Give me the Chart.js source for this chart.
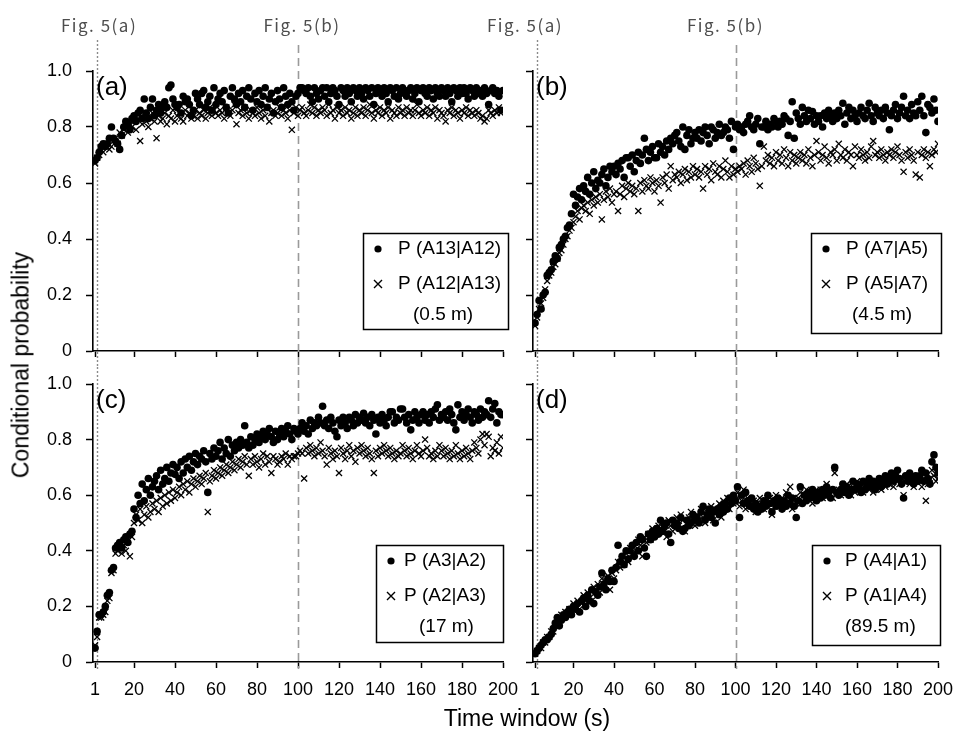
<!DOCTYPE html>
<html><head><meta charset="utf-8">
<script src="https://cdn.jsdelivr.net/npm/chart.js@4/dist/chart.umd.min.js"></script>
<style>
html,body{margin:0;padding:0;background:#fff;}
#fig{position:relative;width:956px;height:735px;overflow:hidden;background:#fff;font-family:"Liberation Sans",Arial,sans-serif;color:#000;}
#fig canvas{position:absolute;}
#ytitle{position:absolute;left:21px;top:365px;transform:translate(-50%,-50%) rotate(-90deg);font-size:23px;white-space:nowrap;line-height:1;}
#xtitle{position:absolute;left:527px;top:718px;transform:translate(-50%,-50%);font-size:23px;white-space:nowrap;line-height:1;}
</style></head>
<body>
<div id="fig">
<canvas id="cA" width="520" height="367" style="left:0;top:0"></canvas>
<canvas id="cB" width="486" height="367" style="left:470px;top:0"></canvas>
<canvas id="cC" width="520" height="368" style="left:0;top:367px"></canvas>
<canvas id="cD" width="436" height="368" style="left:520px;top:367px"></canvas>
<div id="ytitle">Conditional probability</div>
<div id="xtitle">Time window (s)</div>
</div>
<script>
// ---------- data ----------
const timeWindow = Array.from({length:200},(_,i)=>i+1);
const xTickValues = [1,20,40,60,80,100,120,140,160,180,200];
const yTickValues = [0,0.2,0.4,0.6,0.8,1.0];
const figMarks = [1,100];
const figLabels = ['Fig. 5(a)','Fig. 5(b)'];

// (a) 0.5 m
const pA13A12 = [.68,.69,.71,.73,.74,.73,.74,.76,.80,.76,
.75,.74,.72,.77,.80,.82,.81,.79,.83,.84,
.82,.85,.86,.83,.90,.85,.83,.87,.90,.84,
.86,.88,.85,.87,.89,.87,.94,.95,.90,.88,
.87,.88,.85,.91,.89,.90,.88,.84,.86,.92,
.90,.88,.92,.93,.87,.89,.91,.86,.94,.88,
.90,.92,.89,.93,.87,.85,.91,.94,.90,.88,
.92,.89,.93,.87,.91,.94,.90,.86,.92,.89,
.93,.88,.91,.94,.87,.90,.92,.85,.89,.93,
.90,.87,.94,.91,.88,.92,.89,.86,.91,.92,
.94,.94,.93,.92,.94,.91,.89,.94,.92,.90,
.93,.94,.91,.94,.89,.92,.94,.93,.91,.88,
.94,.93,.91,.94,.92,.89,.94,.93,.91,.94,
.92,.90,.94,.93,.91,.94,.88,.92,.94,.93,
.91,.94,.92,.89,.94,.93,.91,.94,.90,.92,
.94,.93,.91,.93,.94,.90,.92,.94,.89,.93,
.94,.92,.91,.94,.93,.90,.94,.92,.91,.94,
.93,.91,.94,.92,.89,.94,.93,.91,.94,.92,
.94,.92,.90,.94,.93,.91,.94,.92,.93,.91,
.94,.92,.88,.93,.94,.92,.93,.91,.86,.93];
const pA12A13 = [.67,.69,.70,.72,.71,.73,.74,.72,.73,.75,
.76,.74,.78,.77,.79,.80,.78,.81,.80,.82,
.79,.83,.75,.81,.84,.82,.80,.83,.85,.82,
.76,.84,.82,.83,.85,.81,.84,.83,.86,.82,
.84,.85,.83,.82,.86,.84,.85,.83,.84,.86,
.83,.85,.84,.86,.83,.85,.87,.84,.86,.85,
.84,.86,.85,.83,.87,.85,.84,.86,.88,.81,
.85,.86,.84,.87,.85,.83,.86,.85,.84,.87,
.85,.83,.86,.84,.87,.82,.85,.86,.84,.85,
.87,.84,.86,.85,.83,.86,.79,.85,.87,.84,
.86,.87,.85,.84,.86,.88,.85,.87,.84,.86,
.85,.87,.86,.84,.88,.85,.86,.83,.87,.85,
.86,.84,.87,.85,.86,.83,.85,.87,.84,.86,
.85,.87,.84,.86,.88,.85,.83,.86,.85,.87,
.84,.86,.85,.87,.83,.86,.85,.84,.87,.85,
.86,.84,.87,.85,.86,.84,.86,.88,.85,.84,
.86,.85,.87,.84,.86,.85,.87,.83,.86,.85,
.84,.82,.86,.85,.87,.84,.86,.85,.83,.86,
.85,.87,.84,.86,.85,.84,.86,.85,.83,.84,
.82,.83,.86,.85,.84,.86,.85,.87,.85,.86];

// (b) 4.5 m
const pA7A5 = [.10,.13,.18,.15,.20,.21,.27,.28,.29,.32,
.34,.33,.37,.38,.40,.41,.44,.45,.49,.56,
.52,.55,.58,.54,.59,.57,.62,.56,.60,.64,
.58,.61,.60,.63,.65,.59,.62,.66,.64,.66,
.63,.67,.65,.68,.62,.69,.69,.66,.70,.64,
.68,.71,.67,.70,.76,.72,.68,.71,.73,.69,
.69,.74,.71,.73,.70,.75,.72,.76,.74,.77,
.78,.75,.73,.80,.72,.77,.79,.74,.76,.78,
.76,.79,.75,.78,.80,.77,.74,.80,.79,.76,
.78,.81,.77,.78,.80,.79,.76,.82,.72,.80,
.81,.79,.80,.78,.81,.82,.84,.80,.79,.81,
.83,.74,.80,.80,.82,.79,.81,.80,.83,.82,
.80,.82,.81,.84,.83,.77,.82,.89,.76,.85,
.83,.81,.87,.84,.82,.86,.83,.855,.81,.84,
.82,.84,.80,.85,.83,.86,.84,.82,.85,.83,
.86,.84,.885,.81,.85,.87,.83,.86,.84,.82,
.85,.87,.84,.83,.86,.885,.84,.82,.87,.85,
.84,.86,.83,.87,.85,.79,.84,.86,.88,.83,
.85,.87,.91,.84,.86,.83,.88,.85,.84,.89,
.86,.91,.84,.78,.88,.87,.85,.90,.86,.82];
const pA5A7 = [.09,.12,.15,.17,.19,.22,.25,.27,.28,.30,
.31,.33,.35,.36,.38,.40,.41,.43,.44,.46,
.48,.50,.47,.51,.52,.50,.53,.49,.54,.52,
.55,.53,.56,.47,.54,.57,.55,.58,.53,.56,
.57,.50,.56,.59,.55,.58,.60,.57,.59,.56,
.58,.50,.60,.57,.61,.59,.58,.62,.60,.57,
.61,.59,.53,.62,.60,.63,.58,.66,.61,.63,
.62,.64,.60,.63,.65,.61,.64,.62,.66,.63,
.65,.62,.64,.58,.66,.63,.65,.61,.67,.64,
.63,.66,.62,.65,.68,.64,.62,.66,.63,.65,
.64,.66,.65,.67,.63,.68,.66,.64,.69,.67,
.65,.59,.66,.73,.68,.70,.67,.69,.66,.71,
.68,.70,.67,.72,.69,.66,.71,.68,.70,.67,
.69,.71,.68,.70,.67,.72,.69,.66,.70,.75,
.71,.68,.70,.73,.69,.67,.71,.70,.72,.68,
.74,.70,.69,.72,.68,.71,.70,.66,.73,.70,
.69,.72,.70,.68,.71,.69,.73,.75,.70,.71,
.69,.72,.70,.68,.71,.70,.72,.69,.71,.73,
.70,.68,.64,.71,.69,.72,.70,.68,.63,.71,
.62,.70,.72,.69,.71,.66,.70,.72,.71,.74];

// (c) 17 m
const pA3A2 = [.05,.11,.17,.17,.18,.20,.24,.25,.33,.34,
.41,.42,.43,.41,.44,.45,.43,.46,.47,.55,
.52,.60,.57,.64,.58,.62,.66,.60,.63,.65,
.67,.62,.69,.64,.66,.70,.65,.68,.71,.675,
.70,.66,.72,.68,.73,.70,.74,.69,.72,.75,
.71,.74,.73,.76,.72,.61,.75,.73,.77,.74,
.76,.79,.73,.77,.75,.80,.74,.78,.76,.79,
.77,.80,.78,.85,.79,.77,.81,.78,.80,.82,
.79,.81,.83,.80,.82,.84,.81,.79,.83,.80,
.82,.84,.81,.83,.85,.82,.80,.84,.83,.82,
.84,.86,.83,.85,.82,.87,.84,.86,.85,.88,
.86,.92,.85,.87,.84,.88,.86,.83,.81,.87,
.85,.88,.86,.84,.88,.87,.85,.89,.86,.88,
.87,.895,.86,.88,.85,.89,.87,.82,.88,.86,
.89,.87,.85,.88,.90,.90,.86,.88,.87,.91,
.91,.88,.86,.89,.835,.87,.90,.88,.86,.89,
.90,.87,.89,.86,.90,.88,.91,.925,.87,.89,
.88,.90,.87,.91,.89,.86,.835,.925,.88,.90,
.87,.89,.91,.88,.86,.90,.89,.87,.91,.88,
.90,.89,.94,.88,.91,.93,.86,.90,.89,.89];
const pA2A3 = [.06,.09,.16,.16,.17,.18,.22,.23,.32,.33,
.39,.40,.41,.39,.42,.40,.44,.38,.45,.50,
.53,.51,.55,.50,.53,.56,.52,.54,.57,.55,
.58,.54,.59,.56,.60,.57,.61,.58,.62,.59,
.61,.63,.60,.64,.62,.65,.61,.64,.66,.63,
.65,.67,.64,.66,.68,.54,.65,.67,.69,.66,
.68,.70,.67,.69,.71,.68,.70,.72,.69,.71,
.73,.70,.72,.74,.71,.67,.73,.71,.74,.72,
.70,.73,.75,.71,.74,.72,.68,.74,.73,.71,
.72,.74,.73,.75,.71,.74,.73,.74,.74,.75,
.76,.75,.66,.77,.75,.78,.76,.74,.77,.75,
.79,.76,.74,.71,.77,.75,.73,.76,.74,.68,
.77,.75,.73,.76,.78,.74,.76,.72,.77,.75,
.78,.76,.74,.77,.75,.73,.68,.76,.74,.77,
.75,.78,.76,.74,.77,.75,.73,.76,.74,.75,
.78,.76,.74,.77,.75,.73,.76,.78,.75,.74,
.76,.80,.77,.74,.75,.73,.76,.74,.78,.76,
.74,.77,.75,.73,.76,.74,.78,.75,.73,.76,
.74,.77,.75,.73,.76,.79,.77,.75,.80,.82,
.78,.82,.81,.74,.77,.76,.79,.75,.81,.77];

// (d) 89.5 m
const pA4A1 = [.03,.04,.05,.06,.07,.08,.08,.09,.10,.12,
.14,.16,.13,.15,.17,.16,.18,.19,.17,.20,
.19,.21,.18,.22,.23,.20,.24,.22,.26,.21,
.25,.24,.27,.32,.28,.26,.30,.29,.33,.29,
.34,.42,.36,.38,.35,.40,.37,.40,.42,.38,
.43,.40,.45,.44,.41,.38,.46,.44,.47,.45,
.48,.46,.51,.47,.49,.50,.46,.43,.51,.49,
.50,.48,.52,.47,.48,.51,.49,.50,.53,.51,
.52,.50,.54,.56,.51,.53,.55,.52,.54,.50,
.55,.53,.56,.54,.57,.55,.59,.57,.60,.58,
.63,.52,.60,.57,.61,.58,.56,.59,.55,.57,
.54,.56,.55,.58,.56,.60,.57,.54,.58,.56,
.59,.57,.55,.58,.56,.60,.57,.59,.56,.52,
.58,.63,.57,.60,.58,.61,.59,.62,.60,.58,
.61,.59,.62,.60,.63,.61,.59,.62,.70,.61,
.60,.62,.64,.61,.63,.60,.62,.65,.62,.64,
.63,.61,.65,.62,.64,.66,.63,.65,.62,.64,
.66,.63,.65,.67,.64,.66,.68,.65,.67,.69,
.66,.64,.59,.67,.65,.68,.66,.64,.67,.65,
.67,.69,.65,.68,.66,.64,.72,.745,.70,.68];
const pA1A4 = [.03,.04,.05,.05,.07,.07,.09,.09,.11,.11,
.13,.15,.14,.17,.16,.18,.17,.19,.18,.21,
.20,.22,.19,.21,.24,.22,.25,.23,.22,.27,
.26,.28,.25,.30,.27,.29,.31,.26,.32,.30,
.33,.36,.34,.37,.35,.39,.36,.41,.39,.42,
.40,.44,.42,.38,.45,.43,.46,.44,.48,.46,
.47,.49,.48,.50,.47,.45,.51,.49,.47,.50,
.52,.49,.53,.51,.47,.50,.52,.54,.51,.49,
.53,.51,.55,.52,.50,.54,.53,.56,.51,.55,
.54,.57,.52,.58,.56,.59,.55,.58,.57,.60,
.61,.56,.58,.62,.55,.59,.57,.56,.58,.54,
.56,.59,.57,.55,.58,.56,.59,.53,.57,.60,
.58,.56,.59,.57,.61,.58,.63,.55,.59,.57,
.59,.61,.58,.60,.62,.59,.61,.57,.60,.62,
.60,.62,.59,.61,.64,.60,.62,.59,.68,.61,
.62,.60,.63,.61,.64,.62,.60,.63,.61,.65,
.62,.64,.61,.63,.65,.62,.64,.61,.63,.65,
.64,.62,.66,.63,.65,.64,.66,.63,.67,.65,
.64,.66,.60,.65,.67,.64,.66,.63,.65,.67,
.65,.63,.66,.58,.64,.66,.69,.67,.65,.66];

// ---------- drawing ----------
Chart.defaults.font.family = '"Liberation Sans", Arial, sans-serif';
Chart.defaults.font.size = 18;
Chart.defaults.color = '#000';

const toPts = ys => ys.map((y,i)=>({x:timeWindow[i], y}));

const deco = {
  id:'deco',
  beforeDatasetsDraw(chart, args, o){
    const ctx = chart.ctx, xs = chart.scales.x, ca = chart.chartArea;
    ctx.save();
    figMarks.forEach((v,k)=>{
      const px = Math.round(xs.getPixelForValue(v)) + 0.5 + (k===0 ? o.dotShift : 0);
      ctx.beginPath();
      if (k===0){ ctx.setLineDash([2,2]); ctx.strokeStyle='#8a8a8a'; ctx.lineWidth=1.4; }
      else { ctx.setLineDash([8,5]); ctx.strokeStyle='#9a9a9a'; ctx.lineWidth=1.6; }
      const y0 = o.top ? (k===0 ? 40 : 45) : 0;
      const y1 = o.top ? chart.height : ca.bottom + 7;
      ctx.moveTo(px, y0); ctx.lineTo(px, y1); ctx.stroke();
    });
    ctx.restore();
  },
  afterDraw(chart, args, o){
    const ctx = chart.ctx, xs = chart.scales.x, ca = chart.chartArea;
    ctx.save();
    if (o.top){
      ctx.font = '17px "Noto Sans CJK JP", "Liberation Sans", sans-serif';
      try { ctx.letterSpacing = '1.5px'; } catch(e){}
      ctx.fillStyle = '#4d4d4d'; ctx.textAlign='center'; ctx.textBaseline='middle';
      figMarks.forEach((v,k)=>{
        ctx.fillText(figLabels[k], xs.getPixelForValue(v) + o.figShift[k], 26);
      });
      try { ctx.letterSpacing = '0px'; } catch(e){}
    }
    ctx.fillStyle='#000'; ctx.textAlign='left'; ctx.textBaseline='middle';
    ctx.font = '26px "Liberation Sans", Arial, sans-serif';
    ctx.fillText(o.panel, ca.left + 3, ca.top + 17);
    const L = o.legend;
    const bx = ca.right + L.right - L.w, by = ca.top + L.top;
    ctx.lineWidth = 1.5; ctx.strokeStyle='#000'; ctx.setLineDash([]);
    ctx.strokeRect(Math.round(bx)+0.5, Math.round(by)+0.5, L.w, L.h);
    ctx.font = '19px "Liberation Sans", Arial, sans-serif';
    ctx.beginPath(); ctx.arc(bx + 15, by + 16, 3.6, 0, Math.PI*2); ctx.fill();
    ctx.fillText(L.names[0], bx + L.textDx, by + 16);
    const cx = bx + 15, cy = by + 51;
    ctx.beginPath(); ctx.lineWidth = 1.4;
    ctx.moveTo(cx-4, cy-4); ctx.lineTo(cx+4, cy+4);
    ctx.moveTo(cx+4, cy-4); ctx.lineTo(cx-4, cy+4); ctx.stroke();
    ctx.fillText(L.names[1], bx + L.textDx, cy);
    ctx.fillText(L.note, bx + L.noteDx, by + 82);
    ctx.restore();
  }
};

function makePanel(id, s1, s2, opts){
  const isLeft = opts.left, isTop = opts.top;
  new Chart(document.getElementById(id), {
    type:'scatter',
    data:{ datasets:[
      { label:opts.legend.names[0], data:toPts(s1), pointStyle:'circle', pointRadius:3.8,
        backgroundColor:'#000', borderColor:'#000', borderWidth:0, order:1 },
      { label:opts.legend.names[1], data:toPts(s2), pointStyle:'crossRot', pointRadius:4.3,
        backgroundColor:'#000', borderColor:'#000', borderWidth:1.3, order:0 }
    ]},
    options:{
      responsive:false, animation:false, events:[],
      layout:{ padding:{ left:0, top: isTop ? 71 : 17, right: opts.padRight, bottom:0 } },
      plugins:{ legend:{display:false}, tooltip:{enabled:false},
        deco:{ top:isTop, panel:opts.panel, legend:opts.legend, figShift:opts.figShift||[0,0], dotShift:2 } },
      scales:{
        x:{ type:'linear', min:0, max:200,
          afterBuildTicks: sc => { sc.ticks = xTickValues.map(v=>({value:v})); },
          afterFit: sc => { sc.height = isTop ? 16 : 73; sc.paddingLeft = 0; sc.paddingRight = 0; sc.paddingTop = 0; sc.paddingBottom = 0; },
          ticks:{ display:!isTop, padding:11, maxRotation:0, autoSkip:false, font:{size:18}, color:'#000' },
          grid:{ display:true, drawOnChartArea:false, drawTicks:true, tickLength:6, color:'#000', tickWidth:1.5 },
          border:{ display:true, color:'#000', width:1.6 }
        },
        y:{ type:'linear', min:0, max:1,
          afterBuildTicks: sc => { sc.ticks = yTickValues.map(v=>({value:v})); },
          afterFit: sc => { sc.width = opts.yWidth; sc.paddingLeft = 0; sc.paddingRight = 0; sc.paddingTop = 0; sc.paddingBottom = 0; },
          ticks:{ display:isLeft, padding:14, font:{size:18}, color:'#000',
            callback: v => v===0 ? '0' : Number(v).toFixed(1) },
          grid:{ display:true, drawOnChartArea:false, drawTicks:true, tickLength:7, color:'#000', tickWidth:1.5 },
          border:{ display:true, color:'#000', width:1.6 }
        }
      }
    },
    plugins:[deco]
  });
}

makePanel('cA', pA13A12, pA12A13, { left:true, top:true, yWidth:93, padRight:17, panel:'(a)', figShift:[4,4],
  legend:{ names:['P (A13|A12)','P (A12|A13)'], note:'(0.5 m)', right:5, w:145, top:162, h:96, textDx:35, noteDx:50 } });
makePanel('cB', pA7A5, pA5A7, { left:false, top:true, yWidth:63, padRight:18, panel:'(b)', figShift:[-10,-10],
  legend:{ names:['P (A7|A5)','P (A5|A7)'], note:'(4.5 m)', right:3, w:130, top:162, h:100, textDx:35, noteDx:41 } });
makePanel('cC', pA3A2, pA2A3, { left:true, top:false, yWidth:93, padRight:17, panel:'(c)',
  legend:{ names:['P (A3|A2)','P (A2|A3)'], note:'(17 m)', right:0, w:127, top:161, h:97, textDx:28, noteDx:43 } });
makePanel('cD', pA4A1, pA1A4, { left:false, top:false, yWidth:13, padRight:18, panel:'(d)',
  legend:{ names:['P (A4|A1)','P (A1|A4)'], note:'(89.5 m)', right:2, w:128, top:161, h:100, textDx:33, noteDx:33 } });
</script>
</body></html>
